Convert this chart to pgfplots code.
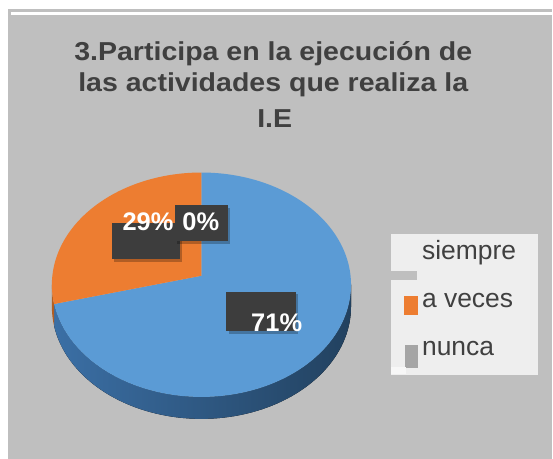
\documentclass[border=0pt]{standalone}
\usepackage{fontspec}
\setmainfont{Liberation Sans}
\usepackage{pgfplots}
\usepackage{pgfplotstable}
\pgfplotsset{compat=1.18}
\usepgfplotslibrary{fillbetween}
\definecolor{bgc}{HTML}{BFBFBF}
\definecolor{pieblue}{HTML}{5B9BD5}
\definecolor{pieorange}{HTML}{ED7D31}
\definecolor{piegray}{HTML}{A5A5A5}
\definecolor{sideL}{HTML}{3B6FA5}
\definecolor{sideM}{HTML}{2C5985}
\definecolor{sideR}{HTML}{22415F}
\definecolor{sideO}{HTML}{B25E22}
\definecolor{txt}{HTML}{404040}
\definecolor{legbg}{HTML}{EEEEEE}
\definecolor{lblbox}{HTML}{3D3D3D}

\pgfplotstableread{
label value
siempre 71
aveces 29
nunca 0
}\piedata
\pgfplotstablegetelem{0}{value}\of\piedata \let\vA\pgfplotsretval
\pgfplotstablegetelem{1}{value}\of\piedata \let\vB\pgfplotsretval
\pgfplotstablegetelem{2}{value}\of\piedata \let\vC\pgfplotsretval
\pgfmathsetmacro\tot{\vA+\vB+\vC}
\pgfmathsetmacro\fA{\vA/\tot}
\pgfmathsetmacro\fB{\vB/\tot}
\pgfmathsetmacro\aStart{90-360*\fA}
\pgfmathsetmacro\bEnd{90+360*\fB}
% geometry of the 3D pie (pixels)
\def\pcx{202}
\def\pcy{276.5}
\def\pra{149.5}
\def\prb{111.8}
\def\pep{0.08}
\def\pdep{22}

\begin{document}
\begin{tikzpicture}
\begin{axis}[
  set layers=standard,
  width=553pt, height=460pt, scale only axis,
  xmin=0, xmax=553, ymin=0, ymax=460, y dir=reverse,
  hide axis, clip=false,
  legend style={at={(axis cs:392,234)}, anchor=north west, fill=legbg, draw=none,
    inner xsep=13pt, inner ysep=7pt, font=\fontsize{26.5}{30}\selectfont, text=txt,
    row sep=22pt, nodes={inner sep=0pt, text height=19pt, text depth=5.5pt},
    /tikz/every odd column/.append style={column sep=4pt}},
  legend cell align=left,
]
% background
\addplot[fill=white, draw=none, forget plot, on layer=axis background] coordinates {(0,0)(553,0)(553,460)(0,460)} -- cycle;
\addplot[fill=bgc, draw=none, forget plot, on layer=axis background] coordinates {(8,9)(553,9)(553,460)(8,460)} -- cycle;
\addplot[white, line width=3pt, forget plot, on layer=axis background] coordinates {(11,14)(553,14)};

% side of the pie
\addplot[name path=sbt, draw=none, forget plot, domain=\bEnd:355.4, samples=80, variable=\t]
  ({\pcx+\pra*cos(\t)/(1+\pep*sin(\t))},{\pcy-\prb*sin(\t)/(1+\pep*sin(\t))});
\addplot[name path=sbb, draw=none, forget plot, domain=\bEnd:355.4, samples=80, variable=\t]
  ({\pcx+\pra*cos(\t)/(1+\pep*sin(\t))},{\pcy+\pdep-\prb*sin(\t)/(1+\pep*sin(\t))});
\addplot[left color=sideL, middle color=sideM, right color=sideR, draw=none, forget plot]
  fill between[of=sbt and sbb];
\addplot[name path=sot, draw=none, forget plot, domain=184.6:\bEnd, samples=10, variable=\t]
  ({\pcx+\pra*cos(\t)/(1+\pep*sin(\t))},{\pcy-\prb*sin(\t)/(1+\pep*sin(\t))});
\addplot[name path=sob, draw=none, forget plot, domain=184.6:\bEnd, samples=10, variable=\t]
  ({\pcx+\pra*cos(\t)/(1+\pep*sin(\t))},{\pcy+\pdep-\prb*sin(\t)/(1+\pep*sin(\t))});
\addplot[fill=sideO, draw=none, forget plot] fill between[of=sot and sob];

% top face
\addplot[fill=pieblue, draw=none, forget plot, domain=\aStart:90, samples=160, variable=\t]
  ({\pcx+\pra*cos(\t)/(1+\pep*sin(\t))},{\pcy-\prb*sin(\t)/(1+\pep*sin(\t))}) -- (axis cs:\pcx,\pcy) -- cycle;
\addplot[fill=pieorange, draw=none, forget plot, domain=90:\bEnd, samples=70, variable=\t]
  ({\pcx+\pra*cos(\t)/(1+\pep*sin(\t))},{\pcy-\prb*sin(\t)/(1+\pep*sin(\t))}) -- (axis cs:\pcx,\pcy) -- cycle;

% data labels
\node[fill=black, fill opacity=0.25, minimum width=68.3pt, minimum height=36.7pt, inner sep=0pt, anchor=north west] at (axis cs:114,226) {};
\node[fill=lblbox, minimum width=68.3pt, minimum height=36.7pt, inner sep=0pt, anchor=north west] at (axis cs:111.7,223.3) {};
\node[fill=black, fill opacity=0.25, minimum width=53.3pt, minimum height=36.7pt, inner sep=0pt, anchor=north west] at (axis cs:177.5,208) {};
\node[fill=lblbox, minimum width=53.3pt, minimum height=36.7pt, inner sep=0pt, anchor=north west] at (axis cs:175,205) {};
\node[fill=black, fill opacity=0.25, minimum width=70pt, minimum height=39.4pt, inner sep=0pt, anchor=north west] at (axis cs:229,295) {};
\node[fill=lblbox, minimum width=70pt, minimum height=39.4pt, inner sep=0pt, anchor=north west] at (axis cs:226.7,292.3) {};
\node[anchor=base west, inner sep=0pt, text=white, font=\bfseries\fontsize{25.5}{28}\selectfont] at (axis cs:122.7,231) {29\%};
\node[anchor=base west, inner sep=0pt, text=white, font=\bfseries\fontsize{25.5}{28}\selectfont] at (axis cs:182.7,231) {0\%};
\node[anchor=base west, inner sep=0pt, text=white, font=\bfseries\fontsize{25.5}{28}\selectfont] at (axis cs:251.7,332.7) {71\%};

% title
\node[anchor=base, inner sep=0pt, text=txt, font=\bfseries\fontsize{26}{30}\selectfont] at (axis cs:274,61) {\scalebox{1.1}[1]{3.Participa en la ejecución de}};
\node[anchor=base, inner sep=0pt, text=txt, font=\bfseries\fontsize{26}{30}\selectfont] at (axis cs:274,91.7) {\scalebox{1.1}[1]{las actividades que realiza la}};
\node[anchor=base, inner sep=0pt, text=txt, font=\bfseries\fontsize{26}{30}\selectfont] at (axis cs:275.5,128.3) {\scalebox{1.1}[1]{I.E}};

% legend
\addlegendimage{legend image code/.code={\fill[legbg, draw=none] (0pt,-14pt) rectangle (14pt,5pt); \fill[bgc, draw=none, overlay] (-13pt,-27pt) rectangle (13pt,-18pt);}}
\addlegendentry{siempre\hspace*{9pt}}
\addlegendimage{legend image code/.code={\fill[pieorange, draw=none] (0pt,-14pt) rectangle (14pt,5pt);}}
\addlegendentry{a veces}
\addlegendimage{legend image code/.code={\fill[piegray, draw=none] (1pt,-19pt) rectangle (14pt,4pt); \fill[white!94!gray, draw=none, overlay] (-13pt,-18pt) rectangle (2pt,-25pt);}}
\addlegendentry{nunca}
\end{axis}
\end{tikzpicture}
\end{document}
